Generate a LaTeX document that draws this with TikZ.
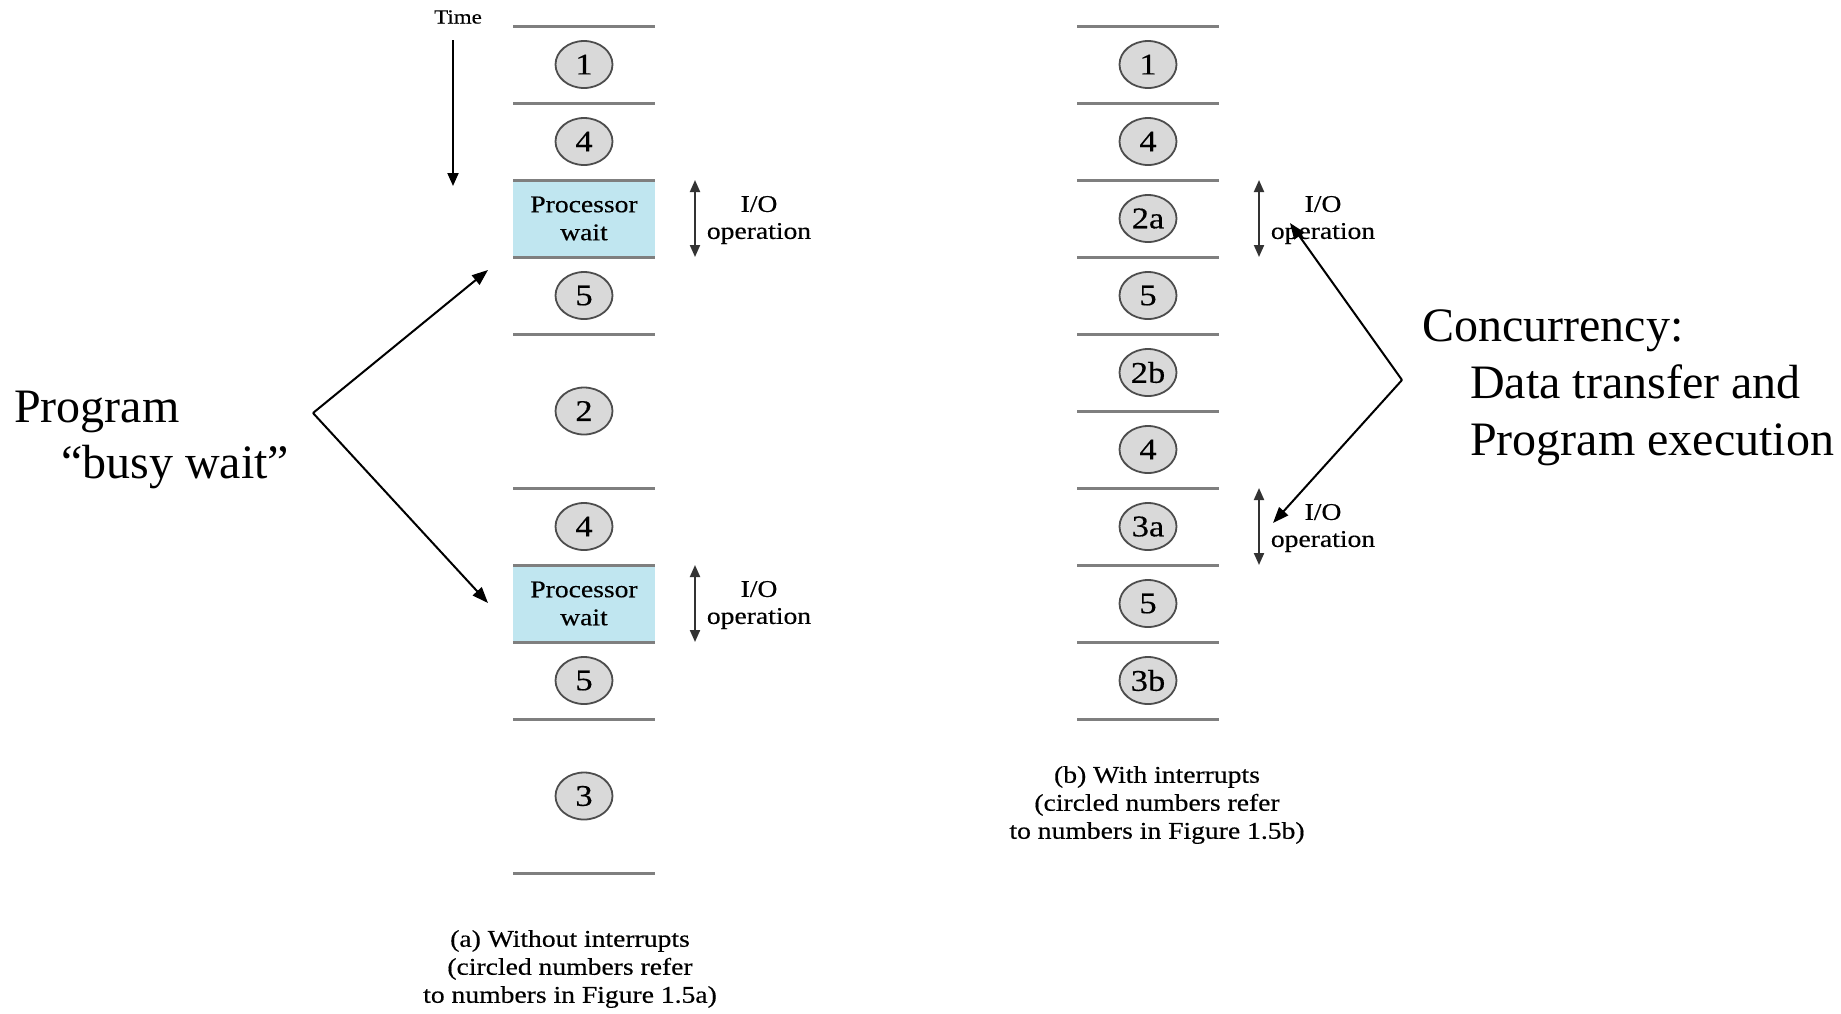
\documentclass[tikz,border=0pt]{standalone}
\usepackage{fontspec}
\setmainfont{Liberation Serif}
\newfontfamily\figfont[FakeStretch=1.15,FakeBold=0.4]{Liberation Serif}
\usetikzlibrary{shapes.geometric,arrows.meta}
\definecolor{rulegray}{HTML}{7F7F7F}
\definecolor{waitblue}{HTML}{C0E6F0}
\definecolor{discfill}{HTML}{D9D9D9}
\definecolor{discline}{HTML}{4D4D4D}
\begin{document}
\begin{tikzpicture}[x=1pt,y=-1pt,
  small/.style={font=\figfont\fontsize{24}{27}\selectfont, align=center, inner sep=0},
  big/.style={font=\fontsize{48}{57}\selectfont, inner sep=0, anchor=base west},
  disc/.style={ellipse, draw=discline, line width=1.8pt, fill=discfill,
    minimum width=57pt, minimum height=47pt, inner sep=0,
    font=\figfont\fontsize{30}{30}\selectfont},
  waitbox/.style={fill=waitblue, minimum width=142pt, minimum height=77pt,
    inner sep=0, align=center, font=\figfont\fontsize{24}{28}\selectfont},
  sepline/.style={draw=rulegray, line width=3pt},
  ioarrow/.style={draw=black!80, line width=2pt,
    {Triangle[width=10pt,length=12pt]}-{Triangle[width=10pt,length=12pt]}},
  pointer/.style={draw=black, line width=2pt, -{Triangle[width=12pt,length=16pt]}},
]
\useasboundingbox (0,0) rectangle (1841,1013);

% ---------- (a) without interrupts ----------
\node[small, font=\figfont\fontsize{20}{20}\selectfont] (time) at (458,17) {Time};
\coordinate (timeA) at (453,40);
\coordinate (timeB) at (453,186);
\draw[line width=2pt, -{Triangle[width=11pt,length=13pt]}] (timeA) -- (timeB);

\node[waitbox] (pwA) at (584,218.5) {Processor\\wait};
\node[waitbox] (pwB) at (584,603.5) {Processor\\wait};

\node[disc] (a1) at (584,64.5) {1};
\node[disc] (a4) at (584,141.5) {4};
\node[disc] (a5) at (584,295.5) {5};
\node[disc] (a2) at (584,411) {2};
\node[disc] (a4b) at (584,526.5) {4};
\node[disc] (a5b) at (584,680.5) {5};
\node[disc] (a3) at (584,796) {3};

\foreach \y in {26,103,180,257,334,488,565,642,719,873}
  \draw[sepline] (513,\y) -- (655,\y);

\coordinate (ioA1) at (695,180);
\coordinate (ioA2) at (695,257);
\draw[ioarrow] (ioA1) -- (ioA2);
\node[small] (ioAt) at (759,220) {I/O\\operation};
\coordinate (ioB1) at (695,565);
\coordinate (ioB2) at (695,642);
\draw[ioarrow] (ioB1) -- (ioB2);
\node[small] (ioBt) at (759,605) {I/O\\operation};

\node[small, font=\figfont\fontsize{24}{28}\selectfont] (capA) at (570,969)
  {(a) Without interrupts\\(circled numbers refer\\to numbers in Figure 1.5a)};

% ---------- (b) with interrupts ----------
\node[disc] (b1) at (1148,64.5) {1};
\node[disc] (b4) at (1148,141.5) {4};
\node[disc] (b2a) at (1148,218.5) {2a};
\node[disc] (b5) at (1148,295.5) {5};
\node[disc] (b2b) at (1148,372.5) {2b};
\node[disc] (b4b) at (1148,449.5) {4};
\node[disc] (b3a) at (1148,526.5) {3a};
\node[disc] (b5b) at (1148,603.5) {5};
\node[disc] (b3b) at (1148,680.5) {3b};

\foreach \y in {26,103,180,257,334,411,488,565,642,719}
  \draw[sepline] (1077,\y) -- (1219,\y);

\coordinate (ioC1) at (1259,180);
\coordinate (ioC2) at (1259,257);
\draw[ioarrow] (ioC1) -- (ioC2);
\node[small] (ioCt) at (1323,220) {I/O\\operation};
\coordinate (ioD1) at (1259,488);
\coordinate (ioD2) at (1259,565);
\draw[ioarrow] (ioD1) -- (ioD2);
\node[small] (ioDt) at (1323,528) {I/O\\operation};

\node[small, font=\figfont\fontsize{24}{28}\selectfont] (capB) at (1157,805)
  {(b) With interrupts\\(circled numbers refer\\to numbers in Figure 1.5b)};

% ---------- annotations ----------
\node[big] (prog) at (14,422) {Program};
\node[big] (busy) at (61,478) {“busy wait”};
\coordinate (bwapex) at (313,413);
\coordinate (bwtop) at (488,270);
\coordinate (bwbot) at (488,603);
\draw[pointer] (bwapex) -- (bwtop);
\draw[pointer] (bwapex) -- (bwbot);

\node[big] (conc) at (1422,341) {Concurrency:};
\node[big] (dtx) at (1470,398) {Data transfer and};
\node[big] (pex) at (1470,455) {Program execution};
\coordinate (ccapex) at (1402,380);
\coordinate (cctop) at (1290,223);
\coordinate (ccbot) at (1273,523);
\draw[pointer] (ccapex) -- (cctop);
\draw[pointer] (ccapex) -- (ccbot);
\end{tikzpicture}
\end{document}
